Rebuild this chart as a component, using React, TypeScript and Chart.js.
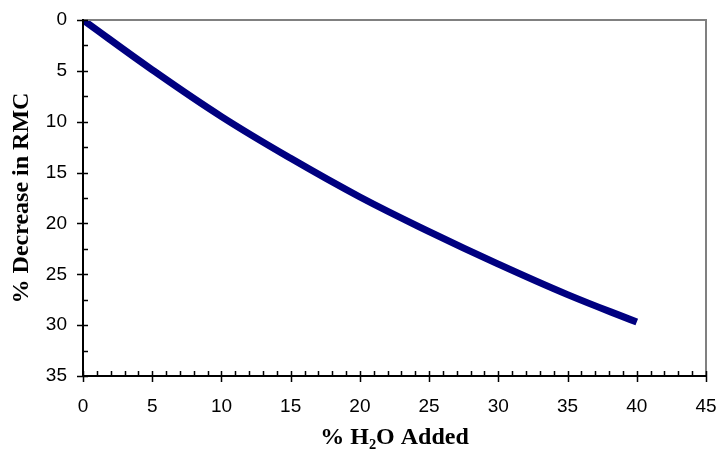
import React, { useEffect, useRef } from "react";
import { Chart, registerables } from "chart.js";

Chart.register(...registerables);

const waterAdded = [0, 5, 10, 15, 20, 25, 30, 35, 40];
const rmcDecrease = [0, 4.9, 9.5, 13.6, 17.4, 20.8, 24.0, 27.0, 29.7];
const xTicks = [0, 5, 10, 15, 20, 25, 30, 35, 40, 45];
const yTicks = [0, 5, 10, 15, 20, 25, 30, 35];

const axisPlugin = {
  id: "axisPlugin",
  afterDraw(chart: any) {
    const { ctx, chartArea } = chart;
    const { left, right, top, bottom } = chartArea;
    const xs = chart.scales.x;
    const ys = chart.scales.y;
    ctx.save();
    ctx.strokeStyle = "#808080";
    ctx.lineWidth = 2;
    ctx.beginPath();
    ctx.moveTo(left, top);
    ctx.lineTo(right, top);
    ctx.lineTo(right, bottom);
    ctx.stroke();
    ctx.strokeStyle = "#000000";
    ctx.lineWidth = 2;
    ctx.beginPath();
    ctx.moveTo(left, top - 1);
    ctx.lineTo(left, bottom);
    ctx.lineTo(right + 1, bottom);
    ctx.stroke();
    ctx.lineWidth = 1.5;
    ctx.beginPath();
    for (let v = 0; v <= 45; v += 1) {
      const px = Math.round(xs.getPixelForValue(v)) + 0.5;
      if (v % 5 === 0) {
        ctx.moveTo(px, bottom - 5);
        ctx.lineTo(px, bottom + 6);
      } else {
        ctx.moveTo(px, bottom - 5);
        ctx.lineTo(px, bottom);
      }
    }
    for (let v = 0; v <= 35; v += 2.5) {
      const py = Math.round(ys.getPixelForValue(v)) + 0.5;
      if (v % 5 === 0) {
        ctx.moveTo(left - 6, py);
        ctx.lineTo(left + 5, py);
      } else {
        ctx.moveTo(left, py);
        ctx.lineTo(left + 5, py);
      }
    }
    ctx.stroke();
    ctx.restore();
  },
};

export default function App() {
  const ref = useRef<HTMLCanvasElement>(null);
  useEffect(() => {
    document.body.style.margin = "0";
    const chart = new Chart(ref.current!, {
      type: "line",
      data: {
        datasets: [
          {
            data: waterAdded.map((x, i) => ({ x, y: rmcDecrease[i] })),
            borderColor: "#000080",
            borderWidth: 7,
            pointRadius: 0,
            tension: 0.4,
            fill: false,
            borderCapStyle: "butt",
          },
        ],
      },
      options: {
        animation: false,
        responsive: false,
        layout: { padding: { top: 20, right: 13, left: 0, bottom: 0 } },
        plugins: {
          legend: { display: false },
          tooltip: { enabled: false },
        },
        scales: {
          x: {
            type: "linear",
            min: 0,
            max: 45,
            afterBuildTicks: (s: any) => {
              s.ticks = xTicks.map((v) => ({ value: v }));
            },
            afterFit: (s: any) => {
              s.height = 80;
              s.paddingLeft = 0;
              s.paddingRight = 0;
            },
            grid: { display: false, drawTicks: false },
            border: { display: false },
            ticks: {
              padding: 19,
              color: "#000",
              font: { family: "Liberation Sans, Arial", size: 19 },
            },
            title: {
              display: true,
              text: "% H₂O Added",
              color: "#000",
              font: { family: "Liberation Serif, Times New Roman", size: 24, weight: "bold" },
              padding: { top: 0, bottom: 4 },
            },
          },
          y: {
            type: "linear",
            reverse: true,
            min: 0,
            max: 35,
            afterBuildTicks: (s: any) => {
              s.ticks = yTicks.map((v) => ({ value: v }));
            },
            afterFit: (s: any) => {
              s.width = 83;
              s.paddingTop = 0;
              s.paddingBottom = 0;
            },
            grid: { display: false, drawTicks: false },
            border: { display: false },
            ticks: {
              padding: 16,
              color: "#000",
              font: { family: "Liberation Sans, Arial", size: 19 },
            },
            title: {
              display: true,
              text: "% Decrease in RMC",
              color: "#000",
              font: { family: "Liberation Serif, Times New Roman", size: 24, weight: "bold" },
              padding: { top: 7, bottom: 0 },
            },
          },
        },
      },
      plugins: [axisPlugin],
    });
    return () => chart.destroy();
  }, []);
  return (
    <div style={{ position: "absolute", left: 0, top: 0, width: 719, height: 456 }}>
      <canvas ref={ref} width={719} height={456} />
    </div>
  );
}
